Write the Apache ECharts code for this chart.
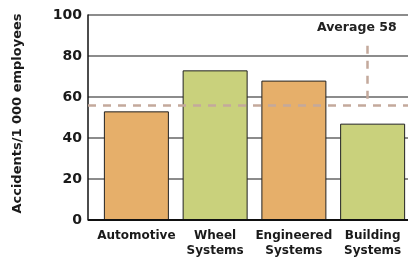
<!DOCTYPE html>
<html>
<head>
<meta charset="utf-8">
<script src="https://cdn.jsdelivr.net/npm/echarts@6/dist/echarts.min.js"></script>
<style>
  html, body { margin: 0; padding: 0; background: #fff; }
  #chart { width: 408px; height: 258px; }
</style>
</head>
<body>
<div id="chart"></div>
<script>
const categories = ['Automotive', 'Wheel\nSystems', 'Engineered\nSystems', 'Building\nSystems']
const accidents = [53, 73, 68, 47]
const averageLine = 56
const averageText = 'Average 58'
const yTicks = [0, 20, 40, 60, 80, 100]

const barColors = ['#E6AF6A', '#C9D17C', '#E6AF6A', '#C9D17C']
const font = 'DejaVu Sans, sans-serif'

const chart = echarts.init(document.getElementById('chart'))

const option = {
  animation: false,
  textStyle: { fontFamily: font, fontWeight: 'bold', color: '#1a1a1a' },
  grid: [
    { left: 88, right: 0, top: 15, bottom: 38, outerBoundsMode: 'none' }, // frame, grid lines, average
    { left: 97, width: 315, top: 15, bottom: 38, outerBoundsMode: 'none' }, // bars
  ],
  xAxis: [
    { gridIndex: 0, type: 'value', min: 0, max: 1, show: false },
    {
      gridIndex: 1,
      type: 'category',
      data: categories,
      axisLine: { show: false },
      axisTick: { show: false },
      axisLabel: {
        interval: 0,
        margin: 8,
        fontSize: 12,
        lineHeight: 15,
        fontWeight: 'bold',
        fontFamily: font,
        color: '#1a1a1a',
      },
    },
  ],
  yAxis: [
    {
      gridIndex: 0,
      type: 'value',
      min: yTicks[0],
      max: yTicks[yTicks.length - 1],
      interval: 20,
      name: 'Accidents/1 000 employees',
      nameLocation: 'middle',
      nameGap: 64,
      nameTextStyle: {
        fontSize: 13,
        fontWeight: 'bold',
        fontFamily: font,
        color: '#1a1a1a',
        padding: [0, 0, 0, 8],
      },
      axisLine: { show: true, lineStyle: { color: '#111', width: 1.5 } },
      axisTick: { show: false },
      axisLabel: { fontSize: 14, fontWeight: 'bold', fontFamily: font, color: '#1a1a1a', margin: 6 },
      splitLine: { show: true, lineStyle: { color: '#666', width: 1.5 } },
    },
    { gridIndex: 1, type: 'value', min: 0, max: 100, show: false },
  ],
  series: [
    {
      // average reference lines and label, in the frame grid
      type: 'scatter',
      xAxisIndex: 0,
      yAxisIndex: 0,
      symbolSize: 0,
      itemStyle: { opacity: 1, color: 'transparent' },
      data: [[0.84, 94]],
      label: {
        show: true,
        formatter: averageText,
        position: 'inside',
        fontSize: 12.5,
        fontWeight: 'bold',
        fontFamily: font,
        color: '#222',
      },
      markLine: {
        silent: true,
        symbol: 'none',
        label: { show: false },
        lineStyle: { color: '#C4A99C', type: [8, 7], width: 2.5 },
        data: [
          { yAxis: averageLine },
          [{ coord: [0.872, 85] }, { coord: [0.872, averageLine + 1] }],
        ],
      },
      z: 5,
    },
    {
      type: 'bar',
      xAxisIndex: 1,
      yAxisIndex: 1,
      barWidth: 65,
      data: accidents.map((v, i) => ({
        value: v,
        itemStyle: { color: barColors[i], borderColor: '#222', borderWidth: 1 },
      })),
      z: 2,
    },
    {
      // x axis line drawn on top of bars
      type: 'line',
      xAxisIndex: 0,
      yAxisIndex: 0,
      data: [],
      markLine: {
        silent: true,
        symbol: 'none',
        label: { show: false },
        lineStyle: { color: '#111', type: 'solid', width: 2 },
        data: [{ yAxis: 0 }],
      },
      z: 6,
    },
  ],
}

chart.setOption(option)
</script>
</body>
</html>
